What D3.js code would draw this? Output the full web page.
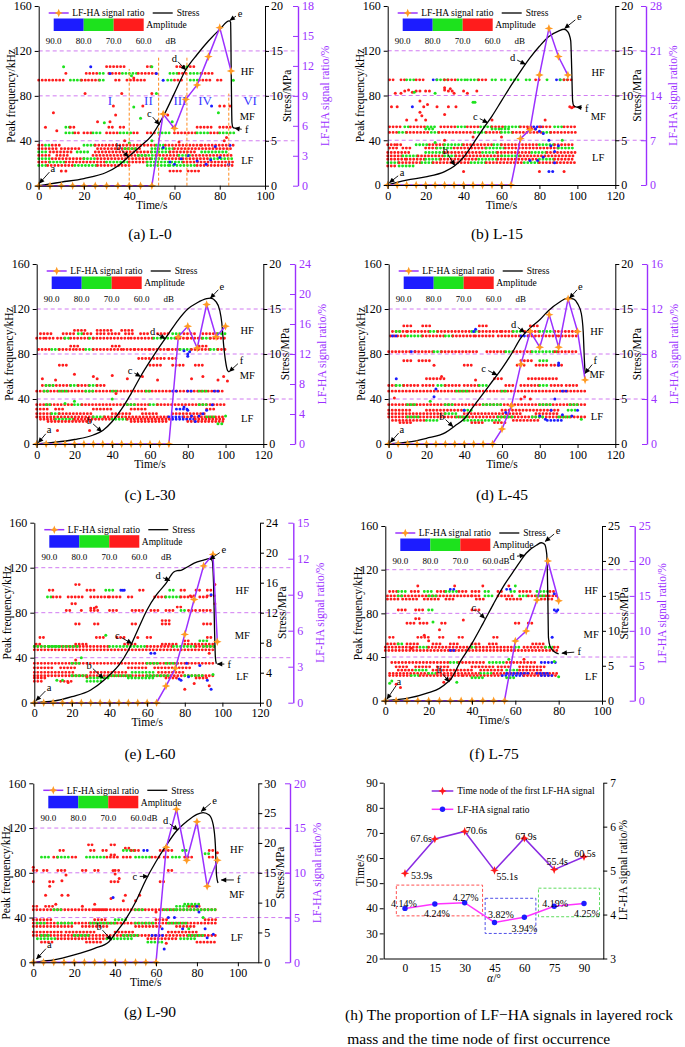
<!DOCTYPE html>
<html><head><meta charset="utf-8">
<script src="https://cdn.jsdelivr.net/npm/d3@7"></script>
<style>body{margin:0;background:#fff}svg{display:block}text{font-family:"Liberation Serif","Times New Roman",serif}</style>
</head><body><svg id="c" width="685" height="1047"></svg>
<script>
// ---------- DATA ----------
// stress curves [time s, stress MPa]
const stressA=[[0,0],[5,0.2],[10,0.4],[20,0.8],[30,1.5],[35,2.2],[40,3.3],[45,4.4],[50,5.6],[55,7.7],[60,10.3],[65,12.9],[70,14.6],[75,16.1],[80,17.4],[84.2,18.35],[84.8,18.2],[85.1,12],[85.4,7],[85.8,6.5],[86.6,6.4]];
const stressB=[[0,0],[5,0.3],[10,0.55],[20,0.9],[30,1.5],[35,2.1],[40,3.1],[45,4.6],[50,6.2],[55,7.7],[60,9.4],[65,11.1],[70,12.7],[75,14.2],[80,15.5],[85,16.6],[90,17.2],[93,17.4],[95,17.1],[96.5,16.1],[97,13.1],[97.5,9.4],[98,8.9],[99.5,8.7]];
const stressC=[[0,0],[5,0.1],[10,0.2],[20,0.5],[30,1.0],[35,1.5],[40,2.5],[45,3.9],[50,5.6],[55,7.5],[60,9.2],[65,10.8],[70,12.3],[75,13.8],[80,15.0],[85,15.7],[90,16.15],[92,16.2],[95,15.8],[97,14.8],[98,13.5],[99,11],[100,9.2],[101,8.2],[102,8.0]];
const stressD=[[0,0],[5,0.1],[10,0.2],[20,0.63],[30,1.26],[35,2.0],[40,2.8],[45,4.2],[50,5.6],[55,7.0],[60,8.4],[65,10.0],[70,11.8],[75,12.9],[80,13.8],[85,14.9],[90,15.7],[95,16.2],[98,16.1],[100,15.6],[102,14.5],[103,12.5],[103.7,9],[104,7.85]];
const stressE=[[0,0],[5,0.1],[10,0.2],[20,0.8],[30,1.7],[37,3.0],[40,3.7],[45,5.0],[50,7.0],[55,9.7],[60,12.4],[65,14.4],[70,15.9],[74,17.4],[76,17.6],[78,17.65],[80,17.9],[85,18.6],[90,19.0],[93,19.2],[94.5,19.0],[95.3,16],[95.8,10],[96.3,6],[96.8,5.2]];
const stressF=[[0,0],[5,0.15],[10,0.33],[20,1.15],[25,1.77],[29,2.7],[30,3.0],[35,5.8],[40,8.2],[45,11.0],[50,13.9],[55,16.6],[60,18.9],[64,20.7],[65,21.1],[70,22.3],[72,22.6],[73.5,22.4],[74.5,21],[75,15],[75.3,9],[76,7.8],[78,7.0],[80,6.7]];
const stressG=[[0,0],[5,0.2],[10,0.4],[20,1.23],[30,2.35],[37,3.46],[40,4.8],[45,7.1],[50,10.1],[55,13.8],[60,16.9],[65,19.6],[70,22.0],[75,23.6],[80,24.8],[83,25.1],[86,24.7],[88,23.0],[89,19.7],[89.6,14.5],[90.3,13.3]];

// LF-HA signal ratio (%) and its time nodes (s)
const ratioTimeA=[0,5,10,15,20,25,30,35,40,45,50,55,60,65,70,75,80,85];
const ratioA=[0,0,0,0,0,0,0,0,0,0,0,7.18,5.74,8.65,10.09,12.93,15.83,11.49];
const ratioTimeB=[0,5,10,15,20,25,30,35,40,45,50,55,60,65,70,75,80,85,90,95];
const ratioB=[0,0,0,0,0,0,0,0,0,0,0,0,0,0,7.26,8.66,17.2,24.5,20.1,17.2];
const ratioTimeC=[0,5,10,15,20,25,30,35,40,45,50,55,60,65,70,75,80,85,90,95,100];
const ratioC=[0,0,0,0,0,0,0,0,0,0,0,0,0,0,0,14.3,15.7,12.8,18.6,14.3,15.7];
const ratioTimeD=[0,5,10,15,20,25,30,35,40,45,50,55,60,65,70,75,80,85,90,95,100,104];
const ratioD=[0,0,0,0,0,0,0,0,0,0,0,0,1.33,3.4,7.1,10.0,8.6,11.5,8.6,12.9,10.0,5.7];
const ratioTimeE=[0,5,10,15,20,25,30,35,40,45,50,55,60,65,70,75,80,85,90,95,97.3];
const ratioE=[0,0,0,0,0,0,0,0,0,0,0,0,0,0,1.39,2.86,5.69,8.6,11.4,12.36,5.08];
const ratioTimeF=[0,5,10,15,20,25,30,35,40,45,50,55,60,65,70,75,80];
const ratioF=[0,0,0,0,0,0,0,0,0,0,0,0,8.54,9.97,14.4,20.0,14.3];
const ratioTimeG=[0,5,10,15,20,25,30,35,40,45,50,55,60,65,70,75,80,85,90];
const ratioG=[0,0,0,0,0,0,0,0,0,0,0,0,0,12.85,17.1,11.4,15.7,8.5,11.4];

// AE events: runs of events [peak freq kHz, t start, t end, amplitude class 0=60-70 1=70-80 2=80-90 dB]
const runsA=[[94,0,11,0],[94,14,19,1],[94,19,21,0],[94,22,27,0],[94,27,29,1],[94,34,37,0],[94,39,48,0],[94,57,59,1],[94,60,64,0],[94,67,71,1],[94,71,77,0],[94,79,82,0],
[100,12,13,0],[100,21,27,0],[100,27,30,1],[100,31,36,0],[100,37,44,1],[100,44,52,0],[100,58,62,1],[100,62,66,0],[100,67,72,1],[100,72,77,0],
[106,30,38,0],[106,48,51,0],[106,61,65,0],[106,67,70,0],
[47,12,16,1],[47,16,19,0],[47,20,24,0],[47,24,28,1],[47,30,36,0],[47,36,42,1],[47,42,45,0],[47,48,52,0],[47,53,58,1],[47,60,70,0],[47,70,76,1],[47,76,80,0],[47,80,87,1],
[52,12,14,1],[52,14,17,0],[52,31,34,0],[52,36,38,0],[52,70,77,0],[52,80,86,0],
[36,0,3,0],[36,3,6,1],[36,6,10,0],[36,20,25,1],[36,25,52,0],[36,52,56,1],[36,56,72,0],[36,72,86,0],
[33,0,8,0],[33,10,18,0],[33,26,46,0],[33,38,44,1],[33,50,60,1],[33,60,86,0],
[30,0,4,1],[30,5,15,0],[30,17,22,1],[30,25,50,0],[30,50,58,1],[30,58,70,0],[30,72,84,1],
[27,0,6,0],[27,8,14,0],[27,24,48,0],[27,44,52,1],[27,52,62,0],[27,62,68,1],[27,68,86,0],
[24,0,6,1],[24,6,20,0],[24,20,26,1],[24,26,50,0],[24,50,56,1],[24,56,76,0],[24,76,86,1],
[21,0,5,0],[21,5,12,1],[21,12,30,0],[21,30,40,1],[21,40,48,0],[21,48,64,1],[21,64,86,0],
[18,0,4,1],[18,4,16,0],[18,16,26,1],[18,26,40,0],[18,48,58,1],[18,58,70,1],[18,70,86,0],
[13,58,64,0],[13,66,72,0]];
// isolated events [t, freq kHz, amplitude class]
const ptsA=[[11,106,1],[23,106,2],[31.5,100,2],[50,106,1],[52,100,2],[55,94,2],[65.5,106,1],[86,94,1],[41,98,1],[42,96,0],
[3,52,0],[6.5,65,0],[20.5,82,0],[31.5,57,0],[33,71,0],[29,56,1],[36.7,82,0],[42,70,1],[46,71,0],[50,82,0],[52,82,1],[57,63,0],[59,57,1],[59.5,52,0],[76.4,71,2],[79.4,65,1],[80,71,0],[82,71,0],[84.5,71,0],[34,63,0],[8,49,0],[26,57,0],[45,60,1],
[58,21,2],[60,19,2],[63,24,2],[66,27,2],[70,22,2],[74,19,2],[78,35,2],[80,25,2],[84,19,2],[84.5,36,2],[55,34,2],[76,23,2],[10,13,0],[12,13,0],[40,38,1],[38,40,0],[50,40,1],[62,39,0],[82,40,0],[83,43,0]];

const runsB=[[94,1,4,0],[94,7,9,0],[94,10,14,1],[94,15,20,0],[94,24,26,2],[94,26,32,1],[94,30,36,0],[94,37,41,1],[94,42,48,1],[94,48,52,0],[94,55,57,1],[94,60,62,1],[94,65,70,1],[94,73,75,1],[94,78,80,0],[94,84,85,1],[94,89,91,2],[94,91,95,1],[94,93,97,0],
[52,1,8,0],[52,9,12,1],[52,12,20,0],[52,21,25,1],[52,28,36,0],[52,37,42,1],[52,42,48,0],[52,49,55,1],[52,55,62,0],[52,62,70,1],[52,70,76,0],[52,77,81,2],[52,80,87,0],[52,88,93,1],[52,93,99,0],
[47,1,6,0],[47,6,10,1],[47,10,22,0],[47,23,27,1],[47,27,46,0],[47,46,52,1],[47,52,60,0],[47,60,66,1],[47,66,82,0],[47,82,86,1],[47,86,99,0],
[50,20,24,1],[50,55,60,1],[50,60,64,1],[50,74,78,0],
[36,0,4,0],[36,5,8,0],[36,15,22,1],[36,22,30,0],[36,30,40,1],[36,40,56,0],[36,56,60,1],[36,60,80,0],[36,80,88,1],[36,88,99,0],
[33,1,6,0],[33,8,12,0],[33,20,26,0],[33,26,34,1],[33,35,52,0],[33,52,62,1],[33,62,90,0],[33,90,98,1],
[29,0,12,0],[29,20,30,1],[29,30,50,0],[29,50,58,1],[29,58,76,0],[29,76,84,1],[29,84,99,0],
[26,0,8,0],[26,8,16,1],[26,16,30,0],[26,30,36,1],[26,36,60,0],[26,60,70,1],[26,70,99,0],
[23,0,10,0],[23,10,20,0],[23,20,28,1],[23,28,48,0],[23,48,58,1],[23,58,80,0],[23,80,88,1],[23,88,99,0],
[20,0,6,1],[20,6,18,0],[20,18,24,1],[20,24,44,0],[20,44,52,1],[20,52,72,0],[20,72,80,1],[20,80,99,0],
[17,0,5,0],[17,6,14,1]];
const ptsB=[[9,84,0],[11,85,0],[13,83,0],[15,84,0],[17,84,0],[20,84,0],[22,84,0],[14,83,1],[30,85,0],[32,84,0],[34,84,0],[35,82,0],[40,84,0],[42,82,0],[47,84,0],[2,70,0],[5,70,0],[4,82,0],[7,82,0],[19,70,0],[21,72,0],[17,75,0],[13,70,2],[32,70,0],[36,70,0],[45,74,1],[46,74,1],[30,87,0],[33,86,0],[96,70,0],[97,69,0],[98,70,0],[17,65,0],[18,62,0],[10,58,0],[15,58,0],[20,58,0],[30,63,0],[55,58,0],[83,58,0],[25,82,1],[26,70,0],
[40,12,0],[80,12,0],[85,12,2],[87,12,2],[93,12,0],[78,50,2],[80,48,2],[82,46,2],[85,40,2],[86,35,2],[88,30,2],[82,25,2],[79,22,2],[90,35,2],[92,40,1],[75,22,2],[88,20,2],[60,43,0],[45,43,0],[30,40,0],[25,38,1]];

const runsC=[[98,2,8,0],[98,14,20,0],[98,22,24,1],[98,25,30,0],[98,32,36,0],[98,38,45,0],[98,47,52,0],[98,55,60,0],[98,64,70,0],[98,72,76,1],[98,78,84,0],[98,88,96,0],[98,96,100,1],
[94,0,4,0],[94,5,10,0],[94,11,15,0],[94,15,17,1],[94,18,28,0],[94,28,30,1],[94,30,50,0],[94,50,62,0],[94,62,74,1],[94,74,80,0],[94,80,88,0],[94,88,92,1],[94,92,100,0],
[101,20,26,0],[101,32,40,0],[101,45,52,0],
[84,1,8,0],[84,8,12,1],[84,12,20,0],[84,21,26,0],[84,26,30,1],[84,30,46,0],[84,46,52,0],[84,52,60,0],[84,60,70,0],[84,70,76,0],[84,76,82,1],[84,82,92,0],[84,92,96,1],[84,96,100,0],
[87,18,22,0],[87,40,44,0],[87,86,90,0],[76,54,60,0],[76,62,68,0],[76,70,75,0],
[70,12,16,0],[70,60,66,0],[70,72,78,0],[70,84,88,0],
[52,3,18,0],[52,5,10,1],[52,18,22,1],[52,22,28,0],[52,28,32,1],[52,32,36,0],
[47,0,100,0],[47,4,6,1],[47,12,16,1],[47,26,30,1],[47,40,42,1],[47,58,60,1],[47,72,74,2],[47,80,82,2],[47,86,90,1],[47,94,96,2],
[35,0,20,0],[35,5,8,1],[35,20,24,1],[35,24,60,0],[35,48,52,1],[35,60,64,1],[35,64,100,0],[35,86,90,1],
[31,0,6,0],[31,10,14,0],[31,30,40,0],[31,50,58,0],[31,74,80,2],[31,90,94,0],
[27,0,8,0],[27,8,12,1],[27,12,30,0],[27,40,50,0],[27,56,64,0],[27,72,90,0],
[24,0,30,0],[24,30,36,1],[24,36,70,0],[24,70,78,2],[24,78,100,0],[24,90,94,1],
[22,2,10,0],[22,10,20,1],[22,20,40,0],[22,40,48,1],[22,48,72,0],[22,72,84,2],[22,84,100,0],
[20,6,30,0],[20,50,70,0],[20,80,100,0]];
const ptsC=[[3,58,0],[10,57,0],[20,62,0],[30,60,0],[32,58,0],[40,61,0],[48,58,0],[56,60,0],[64,57,0],[82,58,0],[88,60,0],[96,57,0],[99,60,0],[101,56,0],
[11,12,0],[28,12,0],[40,40,1],[42,45,0],[20,38,1],[15,36,1],[78,33,2],[80,30,2],[82,25,2],[84,20,2],[86,25,2],[88,27,2],[90,30,2],[93,35,2],[96,18,1],[98,18,1],[100,25,1],[78,83,2],[80,80,2],[80,78,2],[81,82,2]];

const runsD=[[105,8,12,0],[105,18,22,0],[105,48,52,0],[105,75,80,0],
[100,2,10,0],[100,4,6,1],[100,10,22,0],[100,22,26,1],[100,26,44,0],[100,44,48,1],[100,48,60,0],[100,60,66,0],[100,66,70,1],[100,72,80,0],[100,80,88,1],[100,88,100,0],
[96,1,10,0],[96,2,4,2],[96,10,18,1],[96,18,30,0],[96,30,34,1],[96,34,46,0],[96,46,56,0],[96,58,70,0],[96,70,74,2],[96,74,90,0],[96,90,100,0],
[82,0,12,0],[82,12,14,2],[82,14,24,0],[82,24,28,1],[82,28,48,0],[82,52,62,0],[82,62,66,1],[82,66,76,0],[82,76,90,1],[82,88,100,0],
[74,8,12,0],[74,16,22,0],[74,70,76,0],[74,80,84,1],[70,40,44,0],[70,68,72,0],[70,78,84,0],[70,86,92,0],
[58,20,30,0],[58,56,60,0],[58,74,90,0],
[52,0,4,0],[52,4,8,1],[52,8,16,0],[52,18,24,0],[52,26,30,1],[52,30,38,0],[52,40,48,0],[52,48,52,1],[52,62,66,0],[52,70,80,0],[52,80,84,1],[52,86,92,0],[52,94,100,0],
[47,0,104,0],[47,36,42,1],[47,60,62,1],[47,92,94,2],
[35,0,104,0],[35,10,14,1],[35,30,34,1],[35,50,60,1],[35,80,86,1],[35,96,100,1],
[30,0,12,0],[30,20,40,0],[30,40,44,1],[30,60,90,0],[30,95,100,1],
[27,0,30,0],[27,30,36,1],[27,40,70,0],[27,78,90,0],
[24,0,104,0],[24,10,16,1],[24,36,42,1],[24,58,66,1],[24,76,82,1],[24,90,96,1],
[21,2,20,0],[21,20,26,1],[21,40,60,1],[21,66,80,0],[21,84,92,2],
[19,6,12,0],[19,44,50,0],[19,56,62,0]];
const ptsD=[[3,41,0],[4,58,2],[24,42,2],[25,49,2],[22,38,1],[46,57,0],[45,100,2],[46,102,2],[80,25,2],[83,22,2],[86,30,2],[88,40,2],[90,70,2],[90,72,2],[92,26,2],[97,25,2],[100,30,2],[102,22,1],[70,40,0],[72,42,0],[75,40,0],[40,30,2],[62,28,2],[28,60,0],[24,70,0]];

const runsE=[[105,22,24,0],[95,83,85,0],[95,92,96,0],
[100,8,10,0],[100,28,32,0],[100,38,42,1],[100,46,48,2],[100,56,58,0],[100,72,74,1],[100,78,80,0],[100,86,88,0],[100,92,94,0],
[94,7,9,1],[94,10,14,0],[94,18,26,0],[94,30,40,0],[94,40,46,0],[94,50,52,0],[94,64,70,0],[94,70,78,1],[94,78,84,0],[94,88,92,0],
[82,17,19,0],[82,25,26,0],[82,30,34,0],[82,40,44,0],[82,52,58,0],[82,62,66,0],[82,70,74,0],[82,78,80,1],[82,82,86,0],[82,88,94,0],
[88,20,22,0],[85,76,78,0],[84,30,32,0],[70,22,24,0],[70,32,34,0],[70,52,54,0],[70,68,72,0],[70,90,94,0],[73,68,72,0],
[58,3,6,0],[58,33,37,0],[58,44,48,0],[58,60,62,0],[58,92,95,0],
[52,1,4,0],[52,22,28,0],[52,48,54,0],[52,68,76,0],[52,80,95,0],
[50,0,40,0],[50,0,14,1],[50,8,24,1],[50,40,60,1],[50,60,74,0],[50,74,86,1],[50,86,96,0],[50,90,96,1],
[47,0,96,0],[55,80,82,0],[55,88,92,1],
[35,0,96,0],[35,20,24,1],[35,60,66,1],[35,70,76,1],
[31,0,10,0],[31,14,22,0],[31,50,60,0],[31,64,84,0],
[27,0,22,0],[27,30,50,0],[27,52,64,1],[27,66,80,0],
[24,0,96,0],[24,20,28,1],[24,40,52,1],[24,60,72,1],[24,80,90,1],
[22,0,6,0],[22,28,40,1],[22,50,64,1],[22,70,76,0],[22,86,92,0],
[19,0,4,0],[19,14,20,0],[19,28,36,1]];
const ptsE=[[81,35,2],[82,23,2],[62,44,2],[88,33,2],[92,20,2],[95,25,1],[94,96,2],[93,15,0],[94,12,2],[80,12,0],[12,20,1],[15,20,1],[25,40,1],[18,18,0],[22,38,0],[28,23,0],[33,85,0],[38,60,1],[55,58,0],[64,44,2],[47,100,2],[96,105,0],[96,88,0],[93,44,0],[77,21,2],[85,17,0],[78,20,2]];

const runsF=[[105,15,16,0],[105,32,33,0],[105,45,46,0],[105,57,58,0],[105,60,61,1],
[100,2,6,0],[100,6,10,1],[100,12,16,0],[100,18,22,1],[100,24,28,0],[100,28,34,1],[100,34,38,0],[100,40,44,0],[100,46,48,1],[100,52,55,0],[100,58,60,1],[100,62,68,0],[100,70,76,1],[100,76,78,0],
[96,1,40,0],[96,6,8,1],[96,20,24,1],[96,40,44,0],[96,46,50,1],[96,52,60,0],[96,62,66,1],[96,66,80,0],[96,70,74,1],
[93,1,6,0],[93,8,16,0],[93,18,26,0],[93,28,32,0],[93,42,46,0],[93,56,64,0],[93,72,78,0],
[83,6,10,0],[83,14,18,0],[83,20,22,1],[83,40,44,0],[83,78,80,2],[102,30,33,2],[102,56,58,2],
[71,10,14,0],[71,16,20,0],[71,26,28,0],[71,60,62,0],[71,66,68,0],[75,14,16,0],
[58,2,4,0],[58,15,20,0],[58,25,28,0],[58,34,36,0],[58,50,52,0],
[52,1,6,0],[52,6,8,1],[52,10,16,0],[52,22,26,0],[52,30,34,0],[52,40,44,0],[52,48,52,0],[52,68,74,0],
[49,0,16,0],[49,16,20,1],[49,20,40,0],[49,40,42,1],[49,42,60,0],[49,60,62,1],[49,64,74,0],[49,74,78,1],[49,78,80,0],
[46,0,80,0],[46,30,32,2],
[35,3,30,0],[35,30,34,1],[35,34,46,0],[35,48,56,1],[35,56,70,0],[35,72,80,2],
[31,5,10,0],[31,14,22,0],[31,24,30,0],[31,40,50,0],[31,52,58,0],[31,62,74,0],
[28,6,14,0],[28,14,20,1],[28,22,40,0],[28,44,54,0],[28,56,62,1],[28,62,72,0],
[25,2,20,0],[25,20,24,1],[25,24,44,0],[25,44,50,1],[25,50,80,0],[25,56,66,2],[25,70,76,2],
[23,2,12,0],[23,12,16,1],[23,16,36,0],[23,36,54,0],[23,54,64,2],[23,64,80,0],[23,72,78,2],
[21,40,46,1],[21,56,60,1]];
const ptsF=[[3,18,1],[5,15,0],[7,12,0],[2,16,1],[27,17,0],[33,17,1],[57,38,1],[78,36,1],[80,22,1],[77,58,2],[79,82,2],[78,98,2],[64,38,0],[30,20,0],[22,72,1],[36,74,0],[20,55,0],[25,65,0],[18,60,0],[12,48,0]];

const runsG=[[105,27,29,0],[105,38,40,0],[102,45,48,0],
[100,13,15,0],[100,28,30,0],[100,34,36,0],[100,44,50,1],[100,48,52,0],[100,54,56,2],[100,62,64,0],[100,66,68,0],[100,73,75,1],[100,86,88,0],
[94,4,8,1],[94,10,12,0],[94,12,18,1],[94,19,22,0],[94,26,36,1],[94,36,42,0],[94,44,48,0],[94,50,58,1],[94,58,62,0],[94,64,66,0],[94,68,72,1],[94,74,78,0],[94,86,88,0],
[96,38,40,0],[97,84,86,1],
[82,0,2,0],[82,5,8,0],[82,12,16,0],[82,24,26,0],[82,30,32,0],[82,40,42,0],[82,66,68,0],
[72,0,1,0],[72,8,10,0],[72,38,42,0],[72,62,64,0],
[50,0,3,0],[50,6,10,0],[50,70,80,1],[50,76,82,0],
[47,0,90,0],[47,10,14,1],[47,30,36,0],[47,50,54,1],[47,64,70,1],[47,70,90,1],[52,74,82,1],
[38,0,10,0],[38,30,36,0],[38,40,46,1],[38,60,66,0],[38,84,90,0],
[35,0,90,0],[35,2,6,1],[35,12,20,1],[35,28,40,1],[35,50,60,1],[35,66,76,1],
[32,0,20,0],[32,24,36,0],[32,50,62,0],[32,70,80,0],
[27,0,14,0],[27,16,30,0],[27,40,50,0],[27,66,80,0],
[24,0,90,0],[24,4,8,1],[24,20,28,1],[24,44,52,1],[24,58,64,2],[24,76,84,1],
[21,2,12,1],[21,12,36,0],[21,36,48,1],[21,56,70,0],[21,72,80,1],
[18,4,10,0],[18,26,34,0],[18,56,64,1],[18,80,90,0]];
const ptsG=[[0,85,0],[6,60,0],[8,68,0],[14,60,0],[17,60,0],[11,52,0],[24,50,0],[30,52,0],[38,57,0],[44,55,0],[39,58,2],[45,60,0],[50,55,0],[52,60,0],[14,73,0],[16,78,0],[40,79,0],[42,75,0],[39,82,0],[65,17,0],[60,45,0],[66,40,2],[69,40,2],[80,50,2],[81,45,2],[83,40,1],[84,30,2],[73,30,2],[76,30,1],[64,12,2],[63,30,2],[85,22,2],[88,25,2],[90,98,0]];

// annotation letters [label, label t, label stress, target t, target stress]
const annA=[["a",6.2,1.93,0.3,0.26],["b",35.2,4.34,39.6,3.2],["c",48.9,8.05,53.3,6.8],["d",60,14.2,65,12.9],["e",89,19.2,84.5,18.4],["f",91.9,6.2,86.6,6.4]];
const annB=[["a",7.6,1.37,0.9,0.26],["b",30.4,3.9,35.3,2.2],["c",46.2,7.67,52.7,6.96],["d",65.9,14.2,72.6,13.5],["e",101,18.8,93.3,17.5],["f",105,8.6,99.5,8.7]];
const annC=[["a",6.5,1.56,0.9,0.15],["b",27.9,2.6,34.4,1.37],["c",49.4,8.15,55,7.5],["d",61.4,12.55,68,11.7],["e",98,17.55,92,16.2],["f",108.5,9.3,102,8.04]];
const annD=[["a",7,1.63,0.9,0.18],["b",28.2,3.1,34,1.93],["c",50.3,8.4,57.4,7.67],["d",66.2,13.3,72,12.4],["e",101.5,17.55,95.8,16.2],["f",109.4,9.26,104,7.85]];
const annE=[["a",7.8,2.04,0.9,0.27],["b",29.2,5.0,36.7,3.24],["c",44.1,9.0,51.8,7.9],["d",65.9,16.9,72.1,16.3],["e",100.8,20.4,93.4,19.1],["f",103.7,5.15,97.3,5.15]];
const annF=[["a",6.2,2.7,0.8,0.24],["b",24.9,4.4,29.5,2.7],["c",40.8,13.4,45.8,11.8],["d",58.5,20.6,64.3,20.8],["e",79.7,24.3,73.8,22.8],["f",89.5,7.0,81.5,6.8]];
const annG=[["a",7.8,2.9,1.6,0.56],["b",32.2,6.0,38.2,3.74],["c",49.6,14.4,56.1,14.4],["d",64.7,23.7,70.7,22.2],["e",88.6,27.2,82.1,25.3],["f",100.5,13.8,91.9,13.8]];

// panel (a) stage boundaries and stage names
const stageLinesA=[[40,104],[53,115],[65.5,115],[84,82]];
const stageNamesA=[["I",31.5],["II",48.5],["III",62.4],["IV",73.5],["VI",93.4]];

// panel (h)
const angles=[0,15,30,45,60,75,90];
const firstTime=[53.9,67.6,70.6,55.1,67.9,55.4,60.5];
const lfhaRatio=[4.14,4.24,4.27,3.82,3.94,4.19,4.25];

const bandLines=[40,80,120];
const ampLabels=["90.0","80.0","70.0","60.0"];

// ---------- LAYOUT ----------
const AMP=["#ff1c1c","#1de21d","#1c1cff"];
const PURPLE="#9b30ff", ORANGE="#ff9a22", BAND="#cc6cf0";
const FONT='"Liberation Serif","Times New Roman",serif';
const panels=[
 {x0:38.7,x1:265,yT:6,yB:185.7,px:298,tMax:100,xt:[0,20,40,60,80,100],sMax:20,sStep:5,pMax:18,pStep:3,stress:stressA,rt:ratioTimeA,r:ratioA,runs:runsA,pts:ptsA,ann:annA,bt:92.2,bf:[102,61.4,22.8],cap:"(a) L-0",cx:150,cy:238.5,stage:true,db:122},
 {x0:387.7,x1:615.3,yT:6,yB:185,px:646,tMax:120,xt:[0,20,40,60,80,100,120],sMax:20,sStep:5,pMax:28,pStep:7,stress:stressB,rt:ratioTimeB,r:ratioB,runs:runsB,pts:ptsB,ann:annB,bt:111,bf:[101,61.3,25],cap:"(b) L-15",cx:497,cy:238.5,db:122},
 {x0:36.7,x1:263.3,yT:264,yB:444,px:295,tMax:120,xt:[0,20,40,60,80,100,120],sMax:20,sStep:5,pMax:24,pStep:4,stress:stressC,rt:ratioTimeC,r:ratioC,runs:runsC,pts:ptsC,ann:annC,bt:111.5,bf:[101,61.3,23],cap:"(c) L-30",cx:150,cy:500,db:122},
 {x0:388.7,x1:615.3,yT:264,yB:444,px:647,tMax:120,xt:[0,20,40,60,80,100,120],sMax:20,sStep:5,pMax:16,pStep:4,stress:stressD,rt:ratioTimeD,r:ratioD,runs:runsD,pts:ptsD,ann:annD,bt:110.3,bf:[100.4,62,24.3],cap:"(d) L-45",cx:502,cy:500,db:122},
 {x0:34.3,x1:260,yT:522.7,yB:702.7,px:293.3,tMax:120,xt:[0,20,40,60,80,100,120],sMax:24,sStep:4,pMax:15,pStep:3,stress:stressE,rt:ratioTimeE,r:ratioE,runs:runsE,pts:ptsE,ann:annE,bt:110.6,bf:[99.6,60,23.7],cap:"(e) L-60",cx:150,cy:758.5,db:122},
 {x0:385.3,x1:602,yT:526,yB:700.7,px:634.7,tMax:100,xt:[0,20,40,60,80,100],sMax:25,sStep:5,pMax:25,pStep:5,stress:stressF,rt:ratioTimeF,r:ratioF,runs:runsF,pts:ptsF,ann:annF,bt:95,bf:[100.5,60.2,22],cap:"(f) L-75",cx:494,cy:758.5,db:109},
 {x0:33.3,x1:258.3,yT:783.3,yB:962.3,px:290,tMax:110,xt:[0,20,40,60,80,100],sMax:30,sStep:5,pMax:20,pStep:5,stress:stressG,rt:ratioTimeG,r:ratioG,runs:runsG,pts:ptsG,ann:annG,bt:99.5,bf:[100.4,60.2,22],cap:"(g) L-90",cx:150,cy:1017,db:109}
];

const svg=d3.select("#c").attr("font-family",FONT);
const defs=svg.append("defs");
defs.append("marker").attr("id","arr").attr("viewBox","0 0 10 10").attr("refX",9).attr("refY",5)
 .attr("markerWidth",7).attr("markerHeight",5.5).attr("markerUnits","userSpaceOnUse").attr("orient","auto")
 .append("path").attr("d","M0,0.5 L10,5 L0,9.5 z").attr("fill","#000");
const star="M0,-4.3 L1.2,-1.2 L4.3,0 L1.2,1.2 L0,4.3 L-1.2,1.2 L-4.3,0 L-1.2,-1.2 Z";

function styleAxis(sel,color,size){
  sel.attr("font-family",FONT).attr("font-size",size||12);
  sel.select(".domain").attr("stroke",color||"#000");
  sel.selectAll(".tick line").attr("stroke",color||"#000");
  sel.selectAll(".tick text").attr("fill",color||"#000");
}

function drawPanel(P){
  const g=svg.append("g");
  const x=d3.scaleLinear().domain([0,P.tMax]).range([P.x0,P.x1]);
  const yF=d3.scaleLinear().domain([0,160]).range([P.yB,P.yT]);
  const yS=d3.scaleLinear().domain([0,P.sMax]).range([P.yB,P.yT]);
  const yP=d3.scaleLinear().domain([0,P.pMax]).range([P.yB,P.yT]);
  g.selectAll(".bl").data(bandLines).join("line").attr("x1",P.x0).attr("x2",P.px)
   .attr("y1",d=>yF(d)).attr("y2",d=>yF(d)).attr("stroke",BAND).attr("stroke-width",0.9).attr("stroke-dasharray","4,3");
  g.append("g").selectAll("line").data(P.runs).join("line")
   .attr("x1",d=>x(d[1])).attr("x2",d=>x(d[2])).attr("y1",d=>yF(d[0])).attr("y2",d=>yF(d[0]))
   .attr("stroke",d=>AMP[d[3]]).attr("stroke-width",2.9).attr("stroke-linecap","round").attr("stroke-dasharray","0,3.5");
  g.append("g").selectAll("circle").data(P.pts).join("circle")
   .attr("cx",d=>x(d[0])).attr("cy",d=>yF(d[1])).attr("r",1.5).attr("fill",d=>AMP[d[2]]);
  if(P.stage){
    g.selectAll(".sl").data(stageLinesA).join("line").attr("x1",d=>x(d[0])).attr("x2",d=>x(d[0]))
     .attr("y1",P.yB).attr("y2",d=>yF(d[1])).attr("stroke","#ff8a1c").attr("stroke-width",1).attr("stroke-dasharray","3,2");
    g.selectAll(".sn").data(stageNamesA).join("text").attr("x",d=>x(d[1])).attr("y",yF(72))
     .attr("text-anchor","middle").attr("font-size",13).attr("fill","#3a3aff").text(d=>d[0]);
  }
  // stress
  g.append("path").datum(P.stress).attr("fill","none").attr("stroke","#000").attr("stroke-width",1.3)
   .attr("d",d3.line().x(d=>x(d[0])).y(d=>yS(d[1])).curve(d3.curveMonotoneX));
  // ratio
  const rd=P.rt.map((t,i)=>[t,P.r[i]]);
  g.append("path").datum(rd).attr("fill","none").attr("stroke",PURPLE).attr("stroke-width",1.5)
   .attr("d",d3.line().x(d=>x(d[0])).y(d=>yP(d[1])));
  g.append("g").selectAll("path").data(rd).join("path").attr("d",star)
   .attr("transform",d=>`translate(${x(d[0])},${yP(d[1])})`).attr("fill",ORANGE);
  // axes
  g.append("g").attr("transform",`translate(${P.x0},0)`)
   .call(d3.axisLeft(yF).tickValues([0,40,80,120,160]).tickSize(4).tickSizeOuter(0).tickPadding(3)).call(styleAxis);
  g.append("g").attr("transform",`translate(0,${P.yB})`)
   .call(d3.axisBottom(x).tickValues(P.xt).tickSize(4).tickSizeOuter(0).tickPadding(2)).call(styleAxis);
  g.append("g").attr("transform",`translate(${P.x1},0)`)
   .call(d3.axisRight(yS).tickValues(d3.range(0,P.sMax+0.01,P.sStep)).tickSize(4).tickSizeOuter(0).tickPadding(2)).call(styleAxis);
  const pa=g.append("g").attr("transform",`translate(${P.px},0)`)
   .call(d3.axisRight(yP).tickValues(d3.range(0,P.pMax+0.01,P.pStep)).tickSize(-5).tickSizeOuter(0).tickPadding(4)).call(s=>styleAxis(s,PURPLE));
  pa.select(".domain").attr("stroke-width",1.4);
  // titles
  const cy=(P.yT+P.yB)/2;
  g.append("text").attr("transform",`translate(${P.x0-23.5},${cy}) rotate(-90)`).attr("text-anchor","middle").attr("font-size",11.5).text("Peak frequency/kHz");
  g.append("text").attr("transform",`translate(${P.x1+25.5},${cy}) rotate(-90)`).attr("text-anchor","middle").attr("font-size",11.5).text("Stress/MPa");
  g.append("text").attr("transform",`translate(${P.px+31},${cy}) rotate(-90)`).attr("text-anchor","middle").attr("font-size",11.5).attr("fill",PURPLE).text("LF-HA signal ratio/%");
  g.append("text").attr("x",(P.x0+P.x1)/2).attr("y",P.yB+23.5).attr("text-anchor","middle").attr("font-size",11.5).text("Time/s");
  // band labels
  ["HF","MF","LF"].forEach((s,i)=>g.append("text").attr("x",x(P.bt)).attr("y",yF(P.bf[i])+3.5).attr("text-anchor","middle").attr("font-size",10.5).text(s));
  // annotations
  P.ann.forEach(a=>{
    const lx=x(a[1]),ly=yS(a[2]),tx=x(a[3]),ty=yS(a[4]);
    const dx=tx-lx,dy=ty-ly,L=Math.hypot(dx,dy);
    g.append("line").attr("x1",lx+dx/L*5).attr("y1",ly+dy/L*5).attr("x2",tx).attr("y2",ty)
     .attr("stroke","#000").attr("stroke-width",0.9).attr("marker-end","url(#arr)");
    g.append("text").attr("x",lx).attr("y",ly+3.5).attr("text-anchor","middle").attr("font-size",10.5).text(a[0]);
  });
  // legend
  const lg=g.append("g").attr("transform",`translate(${P.x0+10},${P.yT})`).attr("font-size",9.5);
  lg.append("line").attr("x1",0).attr("x2",20).attr("y1",7).attr("y2",7).attr("stroke",PURPLE).attr("stroke-width",1.5);
  lg.append("path").attr("d",star).attr("transform","translate(10,7)").attr("fill",ORANGE);
  lg.append("text").attr("x",23.5).attr("y",10.3).text("LF-HA signal ratio");
  lg.append("line").attr("x1",104).attr("x2",124).attr("y1",7).attr("y2",7).attr("stroke","#000").attr("stroke-width",1.3);
  lg.append("text").attr("x",128).attr("y",10.3).text("Stress");
  lg.selectAll("rect").data([2,1,0]).join("rect").attr("x",(d,i)=>5+i*30).attr("y",12.5).attr("width",30).attr("height",12.5).attr("fill",d=>AMP[d]);
  lg.append("text").attr("x",97.5).attr("y",22.3).text("Amplitude");
  lg.selectAll(".al").data(ampLabels).join("text").attr("x",(d,i)=>5+i*30).attr("y",37.5).attr("text-anchor","middle").attr("font-size",9).text(d=>d);
  lg.append("text").attr("x",P.db).attr("y",37.5).attr("text-anchor","middle").attr("font-size",9).text("dB");
  // caption
  g.append("text").attr("x",P.cx).attr("y",P.cy).attr("text-anchor","middle").attr("font-size",15.5).text(P.cap);
}
panels.forEach(drawPanel);

// ---------- panel (h) ----------
(function(){
  const g=svg.append("g");
  const x=d3.scaleLinear().domain([-10.7,99.7]).range([383.7,603.3]);
  const yT=d3.scaleLinear().domain([20,90]).range([958.5,782.7]);
  const yR=d3.scaleLinear().domain([3,7]).range([958.5,782.7]);
  const boxes=[[-4.35,39,4.67,3.97,"#ff5050"],[40.3,65.8,4.37,3.57,"#5050e8"],[67.1,97.8,4.6,3.95,"#5fdc5f"]];
  g.selectAll(".bx").data(boxes).join("rect").attr("x",d=>x(d[0])).attr("width",d=>x(d[1])-x(d[0]))
   .attr("y",d=>yR(d[2])).attr("height",d=>yR(d[3])-yR(d[2])).attr("fill","none").attr("stroke",d=>d[4]).attr("stroke-width",1).attr("stroke-dasharray","3,2");
  const td=angles.map((a,i)=>[a,firstTime[i]]);
  const rd=angles.map((a,i)=>[a,lfhaRatio[i]]);
  g.append("path").datum(td).attr("fill","none").attr("stroke","#8a2be2").attr("stroke-width",1.5).attr("d",d3.line().x(d=>x(d[0])).y(d=>yT(d[1])));
  g.append("path").datum(rd).attr("fill","none").attr("stroke","#ff33ff").attr("stroke-width",1.5).attr("d",d3.line().x(d=>x(d[0])).y(d=>yR(d[1])));
  g.selectAll(".tm").data(td).join("path").attr("d",star).attr("transform",d=>`translate(${x(d[0])},${yT(d[1])})`).attr("fill","#ff1a1a");
  g.selectAll(".rm").data(rd).join("circle").attr("cx",d=>x(d[0])).attr("cy",d=>yR(d[1])).attr("r",2.7).attr("fill","#1c1cff");
  const tOff=[[6,2,"start"],[-3,-0.5,"end"],[1,-1,"start"],[2,6.5,"start"],[1.6,-2,"middle"],[3,-8,"middle"],[1,-3,"middle"]];
  const rOff=[[-1,-5],[2,9.5],[1,-5],[6.5,-7.5],[0,11],[1,-3],[3,9.5]];
  g.selectAll(".tl").data(td).join("text").attr("x",(d,i)=>x(d[0])+tOff[i][0]).attr("y",(d,i)=>yT(d[1])+tOff[i][1])
   .attr("text-anchor",(d,i)=>tOff[i][2]).attr("dy","0.35em").attr("font-size",10).text(d=>d[1].toFixed(1)+"s");
  g.selectAll(".rl").data(rd).join("text").attr("x",(d,i)=>x(d[0])+rOff[i][0]).attr("y",(d,i)=>yR(d[1])+rOff[i][1])
   .attr("text-anchor","middle").attr("dy","0.35em").attr("font-size",10).text(d=>d[1].toFixed(2)+"%");
  g.append("g").attr("transform","translate(383.7,0)").call(d3.axisLeft(yT).tickValues(d3.range(20,91,10)).tickSize(4).tickSizeOuter(0).tickPadding(2)).call(s=>styleAxis(s,"#000",11.5));
  g.append("g").attr("transform","translate(603.3,0)").call(d3.axisRight(yR).tickValues([3,4,5,6,7]).tickFormat(d3.format("d")).tickSize(4).tickSizeOuter(0).tickPadding(3)).call(s=>styleAxis(s,"#000",11.5));
  g.append("g").attr("transform","translate(0,958.5)").call(d3.axisBottom(x).tickValues(angles).tickSize(0).tickPadding(5)).call(s=>styleAxis(s,"#000",11.5));
  g.append("text").attr("transform","translate(364,870) rotate(-90)").attr("text-anchor","middle").attr("font-size",11.5).text("Time/s");
  g.append("text").attr("transform","translate(626.5,870) rotate(-90)").attr("text-anchor","middle").attr("font-size",11.5).text("LF-HA signal ratio/%");
  const al=g.append("text").attr("x",494).attr("y",982).attr("text-anchor","middle").attr("font-size",11.5);
  al.append("tspan").attr("font-style","italic").text("α");
  al.append("tspan").text("/°");
  // legend
  g.append("line").attr("x1",431.7).attr("x2",453.3).attr("y1",791).attr("y2",791).attr("stroke","#8a2be2").attr("stroke-width",1.5);
  g.append("path").attr("d",star).attr("transform","translate(442.5,791)").attr("fill","#ff1a1a");
  g.append("text").attr("x",457.3).attr("y",794.3).attr("font-size",9.5).text("Time node of the first LF-HA signal");
  g.append("line").attr("x1",431.7).attr("x2",453.3).attr("y1",809.3).attr("y2",809.3).attr("stroke","#ff33ff").attr("stroke-width",1.5);
  g.append("circle").attr("cx",442.5).attr("cy",809.3).attr("r",2.7).attr("fill","#1c1cff");
  g.append("text").attr("x",457.3).attr("y",812.6).attr("font-size",9.5).text("LF-HA signal ratio");
  g.append("text").attr("x",509).attr("y",1020).attr("text-anchor","middle").attr("font-size",15.5).text("(h) The proportion of LF−HA signals in layered rock");
  g.append("text").attr("x",478.7).attr("y",1043.5).attr("text-anchor","middle").attr("font-size",15.5).text("mass and the time node of first occurrence");
})();
</script></body></html>
